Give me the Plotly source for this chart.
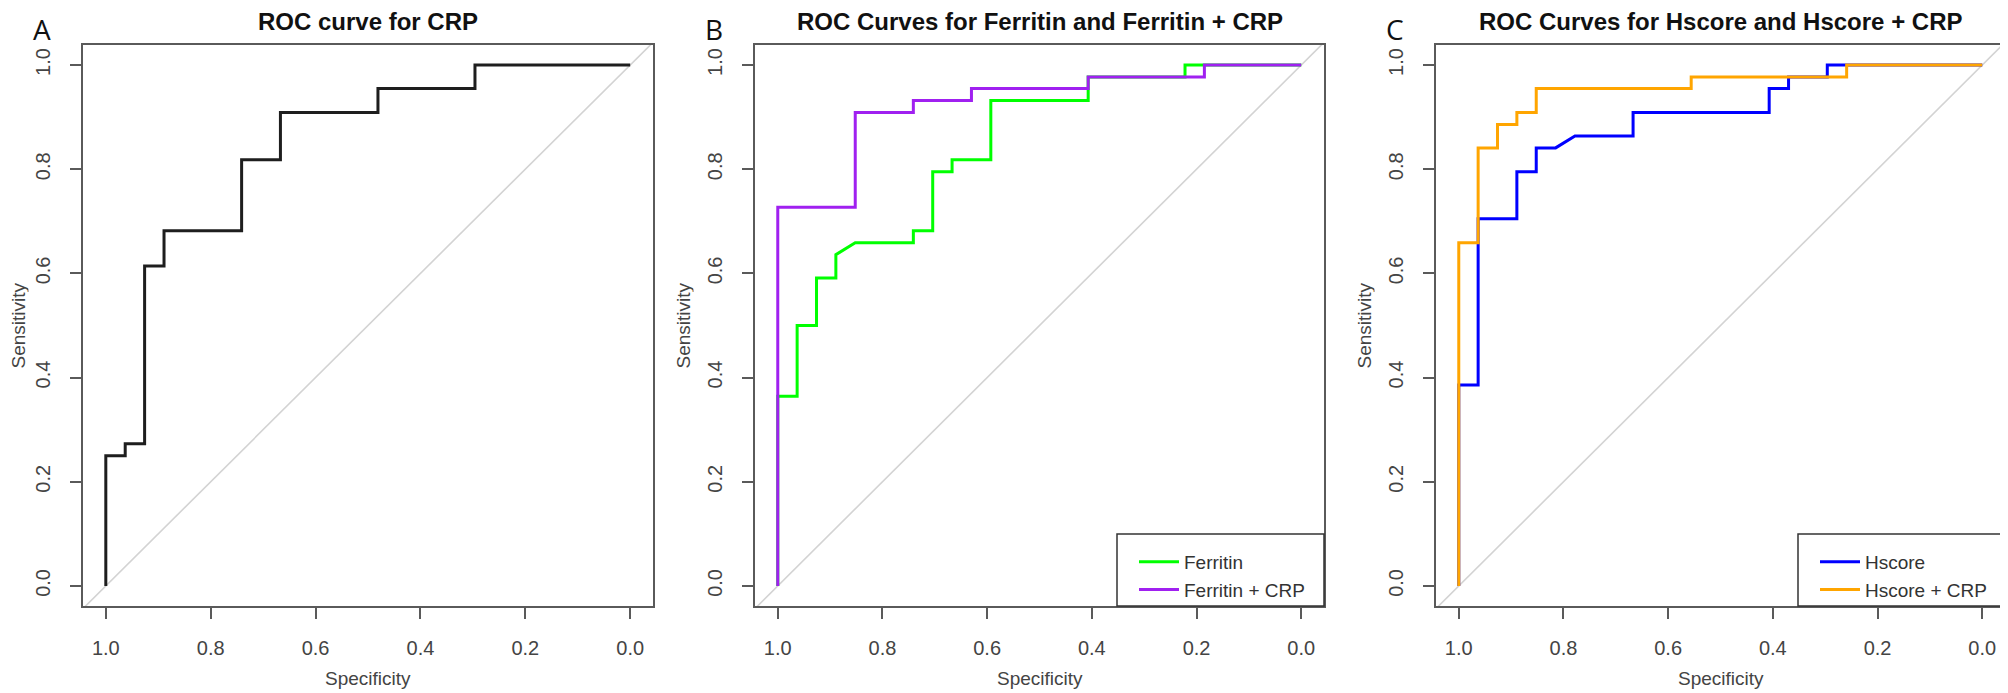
import plotly.graph_objects as go

# ---------------- data ----------------
tick_vals = [1.0, 0.8, 0.6, 0.4, 0.2, 0.0]
tick_text = ["1.0", "0.8", "0.6", "0.4", "0.2", "0.0"]

# Panel A: CRP
crp_spec = [1.0, 1.0, 0.963, 0.963, 0.926, 0.926, 0.889, 0.889, 0.741, 0.741,
            0.667, 0.667, 0.481, 0.481, 0.296, 0.296, 0.0]
crp_sens = [0.0, 0.25, 0.25, 0.273, 0.273, 0.614, 0.614, 0.682, 0.682, 0.818,
            0.818, 0.909, 0.909, 0.955, 0.955, 1.0, 1.0]

# Panel B: Ferritin
fer_spec = [1.0, 1.0, 0.963, 0.963, 0.926, 0.926, 0.889, 0.889, 0.852, 0.741,
            0.741, 0.704, 0.704, 0.667, 0.667, 0.593, 0.593, 0.407, 0.407,
            0.222, 0.222, 0.0]
fer_sens = [0.0, 0.364, 0.364, 0.5, 0.5, 0.591, 0.591, 0.636, 0.659, 0.659,
            0.682, 0.682, 0.795, 0.795, 0.818, 0.818, 0.932, 0.932, 0.977,
            0.977, 1.0, 1.0]
# Panel B: Ferritin + CRP
fercrp_spec = [1.0, 1.0, 0.852, 0.852, 0.741, 0.741, 0.630, 0.630, 0.407,
               0.407, 0.185, 0.185, 0.0]
fercrp_sens = [0.0, 0.727, 0.727, 0.909, 0.909, 0.932, 0.932, 0.955, 0.955,
               0.977, 0.977, 1.0, 1.0]

# Panel C: Hscore
hs_spec = [1.0, 1.0, 0.963, 0.963, 0.889, 0.889, 0.852, 0.852, 0.815, 0.778,
           0.667, 0.667, 0.407, 0.407, 0.370, 0.370, 0.296, 0.296, 0.0]
hs_sens = [0.0, 0.386, 0.386, 0.705, 0.705, 0.795, 0.795, 0.841, 0.841, 0.864,
           0.864, 0.909, 0.909, 0.955, 0.955, 0.977, 0.977, 1.0, 1.0]
# Panel C: Hscore + CRP
hscrp_spec = [1.0, 1.0, 0.963, 0.963, 0.926, 0.926, 0.889, 0.889, 0.852,
              0.852, 0.556, 0.556, 0.259, 0.259, 0.0]
hscrp_sens = [0.0, 0.659, 0.659, 0.841, 0.841, 0.886, 0.886, 0.909, 0.909,
              0.955, 0.955, 0.977, 0.977, 1.0, 1.0]

diag_x = [1.0435, -0.0435]
diag_y = [-0.0435, 1.0435]

titles = ["ROC curve for CRP",
          "ROC Curves for Ferritin and Ferritin + CRP",
          "ROC Curves for Hscore and Hscore + CRP"]
letters = ["A", "B", "C"]

# ---------------- layout geometry (page pixels) ----------------
OFF = 8                      # default body margin of the html page
W, H = 2008 - OFF, 693 - OFF
panels = [(83, 653), (755, 1324), (1436, 2005)]
top_px, bot_px = 45, 606


def px(x):
    return (x - OFF) / W


def py(y):
    return 1 - (y - OFF) / H


FONT = "Liberation Sans, Arial, sans-serif"
AX_COL = "#5a5a5a"
TXT_COL = "#444444"

fig = go.Figure()

axes_names = [("x", "y"), ("x2", "y2"), ("x3", "y3")]

# diagonals
for xa, ya in axes_names:
    fig.add_trace(go.Scatter(x=diag_x, y=diag_y, mode="lines",
                             line=dict(color="#d3d3d3", width=1.6),
                             xaxis=xa, yaxis=ya, showlegend=False,
                             hoverinfo="skip"))

fig.add_trace(go.Scatter(x=crp_spec, y=crp_sens, mode="lines",
                         line=dict(color="#1e1e1e", width=3),
                         xaxis="x", yaxis="y", showlegend=False, name="CRP"))

fig.add_trace(go.Scatter(x=fer_spec, y=fer_sens, mode="lines",
                         line=dict(color="#00ff00", width=3),
                         xaxis="x2", yaxis="y2", name="Ferritin",
                         legend="legend"))
fig.add_trace(go.Scatter(x=fercrp_spec, y=fercrp_sens, mode="lines",
                         line=dict(color="#a020f0", width=3),
                         xaxis="x2", yaxis="y2", name="Ferritin + CRP",
                         legend="legend"))

fig.add_trace(go.Scatter(x=hs_spec, y=hs_sens, mode="lines",
                         line=dict(color="#0000ff", width=3),
                         xaxis="x3", yaxis="y3", name="Hscore",
                         legend="legend2"))
fig.add_trace(go.Scatter(x=hscrp_spec, y=hscrp_sens, mode="lines",
                         line=dict(color="#ffa500", width=3),
                         xaxis="x3", yaxis="y3", name="Hscore + CRP",
                         legend="legend2"))

common = dict(ticks="outside", ticklen=11, tickwidth=1.6, tickcolor=AX_COL,
              showline=True, mirror=True, linecolor=AX_COL, linewidth=2,
              showgrid=False, zeroline=False,
              tickvals=tick_vals, ticktext=tick_text,
              tickfont=dict(family=FONT, size=20, color=TXT_COL))

layout = dict(width=W, height=H, margin=dict(l=0, r=0, t=0, b=0),
              paper_bgcolor="white", plot_bgcolor="white", showlegend=True)

annotations = []
shapes = []
for i, (l, r) in enumerate(panels):
    sfx = "" if i == 0 else str(i + 1)
    layout["xaxis" + sfx] = dict(common, domain=[px(l), px(r)],
                                 range=[1.0435, -0.0435],
                                 anchor="y" + sfx, ticklabelstandoff=12)
    layout["yaxis" + sfx] = dict(common, domain=[py(bot_px), py(top_px)],
                                 range=[-0.0385, 1.0385],
                                 anchor="x" + sfx, tickangle=-90,
                                 ticklabelstandoff=12)
    cx = (l + r) / 2
    annotations.append(dict(text="<b>" + titles[i] + "</b>", x=px(cx),
                            y=py(21), xref="paper", yref="paper",
                            xanchor="center", yanchor="middle",
                            showarrow=False,
                            font=dict(family=FONT, size=24, color="#111")))
    annotations.append(dict(text=letters[i], x=px(l - 41), y=py(OFF),
                            xref="paper", yref="paper", xanchor="center",
                            yanchor="top", showarrow=False,
                            font=dict(family="Open Sans, sans-serif", size=28,
                                      color="#111")))
    annotations.append(dict(text="Specificity", x=px(cx), y=py(678),
                            xref="paper", yref="paper", xanchor="center",
                            yanchor="middle", showarrow=False,
                            font=dict(family=FONT, size=19, color=TXT_COL)))
    annotations.append(dict(text="Sensitivity", x=px(max(l - 71, 19)),
                            y=py((top_px + bot_px) / 2), xref="paper",
                            yref="paper", xanchor="center", yanchor="middle",
                            textangle=-90, showarrow=False, height=20,
                            borderpad=0,
                            font=dict(family=FONT, size=19, color=TXT_COL)))

# legend boxes (bottom-right corner of panels B and C)
for (l, r) in panels[1:]:
    shapes.append(dict(type="rect", xref="paper", yref="paper",
                       x0=px(r - 207), x1=px(r), y0=py(bot_px), y1=py(534),
                       line=dict(color="#333", width=1.5),
                       fillcolor="white", layer="above"))

leg_common = dict(xref="paper", yref="paper", xanchor="left",
                  yanchor="top", bgcolor="rgba(0,0,0,0)", borderwidth=0,
                  tracegroupgap=0, itemwidth=40,
                  font=dict(family=FONT, size=19, color="#333"))
layout["legend"] = dict(leg_common, x=px(panels[1][1] - 190), y=py(543))
layout["legend2"] = dict(leg_common, x=px(panels[2][1] - 190), y=py(543))
layout["annotations"] = annotations
layout["shapes"] = shapes

fig.update_layout(**layout)
fig.write_html("out.html")
